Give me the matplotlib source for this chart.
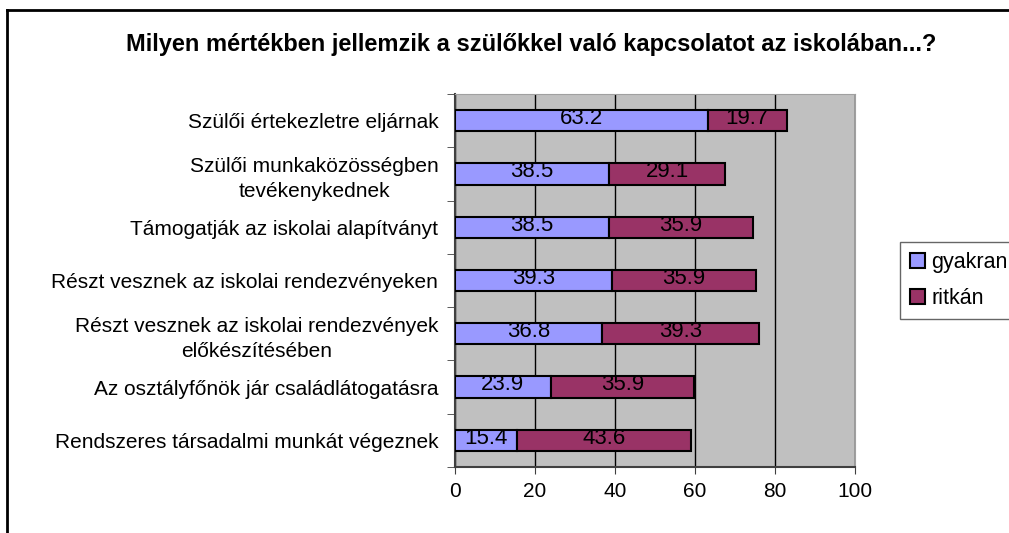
import numpy as np
import matplotlib
matplotlib.use("Agg")
import matplotlib.pyplot as plt
from matplotlib.lines import Line2D

# Data (top to bottom as shown)
categories = [
    "Szülői értekezletre eljárnak",
    "Szülői munkaközösségben\ntevékenykednek",
    "Támogatják az iskolai alapítványt",
    "Részt vesznek az iskolai rendezvényeken",
    "Részt vesznek az iskolai rendezvények\nelőkészítésében",
    "Az osztályfőnök jár családlátogatásra",
    "Rendszeres társadalmi munkát végeznek",
]
gyakran = [63.2, 38.5, 38.5, 39.3, 36.8, 23.9, 15.4]
ritkan = [19.7, 29.1, 35.9, 35.9, 39.3, 35.9, 43.6]
xticks = [0, 20, 40, 60, 80, 100]

plt.rcParams['font.family'] = ['Liberation Sans', 'DejaVu Sans']

fig = plt.figure(figsize=(10.09, 5.33), dpi=100)
ax = fig.add_axes([455/1009, 1 - 467/533, 400/1009, 373/533])

y = np.arange(len(categories))[::-1]
h = 0.4
b1 = ax.barh(y, gyakran, height=h, color='#9999FF', edgecolor='black', linewidth=1.5, label='gyakran', zorder=3)
b2 = ax.barh(y, ritkan, left=gyakran, height=h, color='#993366', edgecolor='black', linewidth=1.5, label='ritkán', zorder=3)

for vals, lefts in [(gyakran, [0]*7), (ritkan, gyakran)]:
    for yy, v, l in zip(y, vals, lefts):
        ax.text(l + v/2, yy + 0.04, f"{v:.1f}", ha='center', va='center', fontsize=16, zorder=4)

ax.set_xlim(0, 100)
ax.set_ylim(-0.5, len(categories) - 0.5)
ax.set_facecolor('#C0C0C0')
ax.set_xticks(xticks)
ax.tick_params(axis='x', labelsize=15, length=5, direction='out', pad=6, color='#404040')
ax.xaxis.grid(True, color='black', linewidth=1, zorder=0)
ax.set_axisbelow(True)

ax.set_yticks(y)
ax.set_yticklabels(categories, fontsize=15, multialignment='center', linespacing=1.4)
ax.tick_params(axis='y', length=0, pad=12)
# boundary ticks on the y axis
ax.set_yticks(np.arange(len(categories) + 1) - 0.5, minor=True)
ax.tick_params(axis='y', which='minor', length=6, direction='out', color='#404040')

for s in ['top', 'right']:
    ax.spines[s].set_color('#A0A0A0')
for s in ['left', 'bottom']:
    ax.spines[s].set_color('#404040')
    ax.spines[s].set_linewidth(1.5)

fig.text(531/1009, 1 - 45/533, "Milyen mértékben jellemzik a szülőkkel való kapcsolatot az iskolában...?",
         ha='center', va='center', fontsize=17, fontweight='bold')

leg = fig.legend(handles=[b1, b2], loc='upper left',
                 bbox_to_anchor=(900/1009, 1 - 243/533, 140/1009, 0.001), mode='expand',
                 fontsize=15.5, frameon=True, fancybox=False, handlelength=0.7, handleheight=0.7,
                 handletextpad=0.3, labelspacing=0.7, borderpad=0.45, borderaxespad=0)
leg.get_frame().set_edgecolor('#404040')
leg.get_frame().set_linewidth(1)

# chart border (extends off the right and bottom edges)
fig.add_artist(Line2D([7/1009, 1.1], [1 - 10/533, 1 - 10/533], transform=fig.transFigure, color='black', linewidth=2))
fig.add_artist(Line2D([7/1009, 7/1009], [-0.1, 1 - 10/533], transform=fig.transFigure, color='black', linewidth=2))

fig.savefig('out.png', dpi=100)
